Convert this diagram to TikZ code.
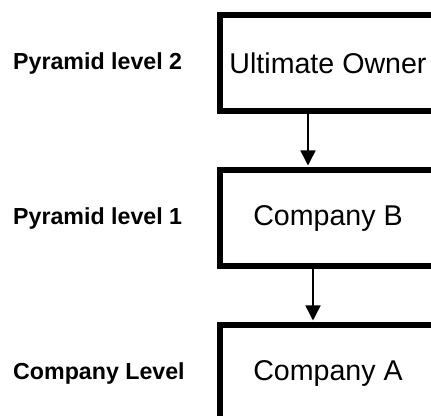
\documentclass[tikz,border=0pt]{standalone}
\usepackage{fontspec}
\setmainfont{Liberation Sans}
\usetikzlibrary{positioning,arrows.meta}
\tikzset{
    box/.style={draw, line width=5.5pt, minimum width=216pt, minimum height=96pt,
        inner sep=0pt, font=\fontsize{28.6}{34}\selectfont},
    lvl/.style={anchor=west, inner sep=0pt, font=\fontsize{23.2}{28}\selectfont\bfseries},
    own/.style={line width=1.5pt, -{Triangle[width=15pt,length=15pt]}, shorten >=2pt}
}
\begin{document}
\begin{tikzpicture}[x=1pt,y=1pt,node distance=53.5pt]
    \useasboundingbox (0,0) rectangle (431,415);
    \clip (0,0) rectangle (431,415);
    \node[box] (owner) at (328,351.75) {Ultimate Owner};
    \node[box, below=of owner] (compb) {Company B};
    \node[box, below=of compb] (compa) {Company A};
    \draw[own] ([xshift=-20pt]owner.south) -- ([xshift=-20pt]compb.north);
    \draw[own] ([xshift=-15pt]compb.south) -- ([xshift=-15pt]compa.north);
    \coordinate (lft) at (13,0);
    \node[lvl] (lvl2) at (lft |- owner) {Pyramid level 2};
    \node[lvl] (lvl1) at (lft |- compb) {Pyramid level 1};
    \node[lvl] (lvl0) at (lft |- compa) {Company Level};
\end{tikzpicture}
\end{document}
